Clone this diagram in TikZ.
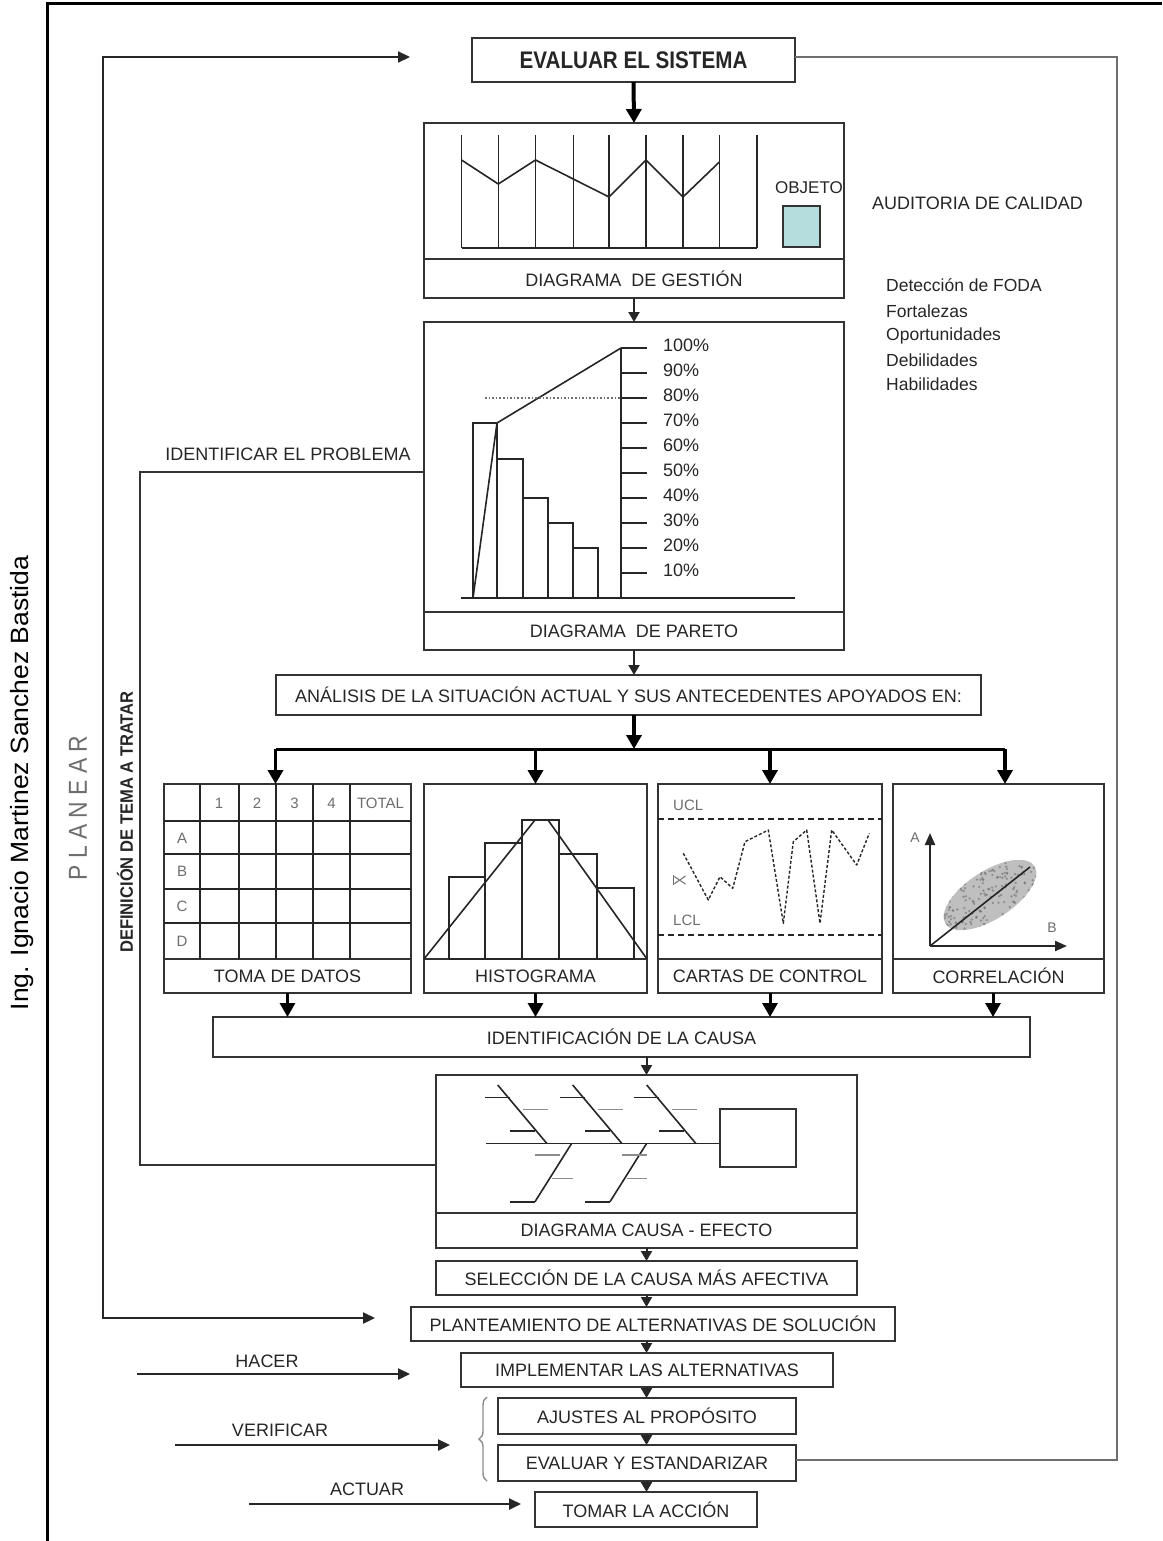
\documentclass[tikz,border=0pt]{standalone}
\usepackage{fontspec}
\usepackage{graphicx}
\setmainfont{Liberation Sans}
\usetikzlibrary{arrows.meta,decorations.pathreplacing,calc}

\definecolor{ink}{HTML}{262626}
\definecolor{lineg}{HTML}{333333}
\definecolor{soft}{HTML}{6E6E6E}
\definecolor{pale}{HTML}{8C8C8C}
\definecolor{objcol}{HTML}{B5DDDE}

% horizontal squeeze / stretch of a label
\newcommand{\hs}[2]{\scalebox{#1}[1]{#2}}

\tikzset{
  box/.style={draw=lineg, line width=1.8pt, inner sep=0pt, outer sep=0pt},
  lbl/.style={font=\fontsize{18}{20}\selectfont, text=ink, inner sep=0pt},
  small/.style={font=\fontsize{15}{17}\selectfont, text=soft, inner sep=0pt},
  arr/.style={draw=ink, line width=2pt, -{Triangle[width=11pt,length=10pt]}},
  bigarr/.style={draw=black, line width=3.5pt, -{Triangle[width=15pt,length=14pt]}},
  sidearr/.style={draw=ink, line width=2.4pt, -{Triangle[width=11pt,length=12pt]}},
  wire/.style={draw=lineg, line width=1.8pt},
  chart/.style={draw=ink, line width=1.6pt},
  bone/.style={draw=ink, line width=1.6pt},
  twig/.style={draw=pale, line width=1.4pt},
}

\begin{document}
\begin{tikzpicture}[x=1pt,y=-1pt]
\useasboundingbox (0,0) rectangle (1162,1541);
\fill[white] (0,0) rectangle (1162,1541);

% page frame
\draw[black, line width=3pt] (1162,4) -- (47,4) -- (47,1541);

% vertical side texts
\node[rotate=90, font=\fontsize{25}{27}\selectfont, text=black, inner sep=0pt] (author) at (22,783) {\hs{1.06}{Ing. Ignacio Martinez Sanchez Bastida}};
\node[rotate=90, font=\fontsize{26}{28}\selectfont, text=soft, inner sep=0pt] (planear) at (78,808) {\hs{0.88}{P L A N E A R}};
\node[rotate=90, font=\bfseries\fontsize{18}{20}\selectfont, text=ink, inner sep=0pt] (defin) at (125,822) {\hs{0.92}{DEFINICIÓN DE TEMA A TRATAR}};

% ---------- main boxes ----------
\node[box, minimum width=323pt, minimum height=44pt, font=\bfseries\fontsize{24}{26}\selectfont, text=ink] (eval) at (633.5,60) {\hs{0.86}{EVALUAR EL SISTEMA}};

\node[box, minimum width=420pt, minimum height=175pt] (gest) at (634,210.5) {};
\node[box, lbl, minimum width=420pt, minimum height=39pt] (gestcap) at (634,278.5) {DIAGRAMA \ DE GESTIÓN};

\node[box, minimum width=420pt, minimum height=328pt] (par) at (634,486) {};
\node[box, lbl, minimum width=420pt, minimum height=38pt] (parcap) at (634,631) {DIAGRAMA \ DE PARETO};

\node[box, lbl, minimum width=705pt, minimum height=40pt] (anal) at (628.5,695) {ANÁLISIS DE LA SITUACIÓN ACTUAL Y SUS ANTECEDENTES APOYADOS EN:};

\node[box, minimum width=247pt, minimum height=209pt] (toma) at (287.5,888.5) {};
\node[box, lbl, minimum width=247pt, minimum height=34pt] (tomacap) at (287.5,976) {TOMA DE DATOS};
\node[box, minimum width=223pt, minimum height=209pt] (hist) at (535.5,888.5) {};
\node[box, lbl, minimum width=223pt, minimum height=34pt] (histcap) at (535.5,976) {HISTOGRAMA};
\node[box, minimum width=224pt, minimum height=209pt] (cart) at (770,888.5) {};
\node[box, lbl, minimum width=224pt, minimum height=34pt] (cartcap) at (770,976) {CARTAS DE CONTROL};
\node[box, minimum width=211pt, minimum height=209pt] (corr) at (998.5,888.5) {};
\node[box, lbl, minimum width=211pt, minimum height=34pt] (corrcap) at (998.5,976) {CORRELACIÓN};

\node[box, lbl, minimum width=817pt, minimum height=40pt] (ident) at (621.5,1037) {IDENTIFICACIÓN DE LA CAUSA};

\node[box, minimum width=421pt, minimum height=173pt] (causa) at (646.5,1161.5) {};
\node[box, lbl, minimum width=421pt, minimum height=35pt] (causacap) at (646.5,1230.5) {DIAGRAMA CAUSA - EFECTO};

\node[box, lbl, minimum width=421pt, minimum height=34pt] (sel) at (646.5,1278) {SELECCIÓN DE LA CAUSA MÁS AFECTIVA};
\node[box, lbl, minimum width=484pt, minimum height=34pt] (plan) at (653,1324) {PLANTEAMIENTO DE ALTERNATIVAS DE SOLUCIÓN};
\node[box, lbl, minimum width=372pt, minimum height=34pt] (impl) at (647,1370) {IMPLEMENTAR LAS ALTERNATIVAS};
\node[box, lbl, minimum width=298pt, minimum height=36pt] (ajus) at (647,1416) {AJUSTES AL PROPÓSITO};
\node[box, lbl, minimum width=298pt, minimum height=36pt] (evst) at (647,1463) {EVALUAR Y ESTANDARIZAR};
\node[box, lbl, minimum width=222pt, minimum height=35pt] (tomar) at (646,1509.5) {TOMAR LA ACCIÓN};

% ---------- side labels ----------
\node[lbl, anchor=west] (audit) at (872,203) {AUDITORIA DE CALIDAD};
\begin{scope}[every node/.style={lbl, anchor=west, font=\fontsize{17.5}{19}\selectfont}]
  \node (foda) at (886,285) {Detección de FODA};
  \node (fort) at (886,311) {Fortalezas};
  \node (opor) at (886,336) {Oportunidades};
  \node (debi) at (886,360) {Debilidades};
  \node (habi) at (886,384) {Habilidades};
\end{scope}
\node[lbl] (identprob) at (288,454) {IDENTIFICAR EL PROBLEMA};
\node[lbl] (hacer) at (267,1361) {HACER};
\node[lbl] (verif) at (280,1430) {VERIFICAR};
\node[lbl] (actuar) at (367,1489) {ACTUAR};

% ---------- management chart ----------
\foreach \x in {461.5,498.3,535.5,573.3,609,645.9,683,719.4,756.7}
  \draw[chart] (\x,135) -- (\x,248);
\draw[chart] (461.5,248) -- (756.7,248);
\draw[chart, line join=round] (461.5,160) -- (498.3,184) -- (535.5,160) -- (609,197) -- (645.9,160) -- (683,197) -- (719.4,162);
\node[lbl, font=\fontsize{17}{19}\selectfont] (objeto) at (809,188) {OBJETO};
\draw[draw=lineg, line width=1.6pt, fill=objcol] (783,206) rectangle (820,247);

% ---------- Pareto chart ----------
\draw[chart] (621,348) -- (621,598);
\draw[chart] (461,598) -- (795,598);
\foreach \k/\t in {0/100\%,1/90\%,2/80\%,3/70\%,4/60\%,5/50\%,6/40\%,7/30\%,8/20\%,9/10\%} {
  \draw[chart] (621,348+25*\k) -- (647,348+25*\k);
  \node[lbl, anchor=west] at (663,345+25*\k) {\t};
}
\draw[chart] (473,598) rectangle (497,423);
\draw[chart] (497,598) rectangle (523,459);
\draw[chart] (523,598) rectangle (548,498);
\draw[chart] (548,598) rectangle (573,523);
\draw[chart] (573,598) rectangle (598,548);
\draw[chart, line join=round] (473,598) -- (497,423) -- (621,348);
\draw[draw=soft, line width=1.6pt, dotted] (485,398) -- (621,398);

% ---------- data sheet ----------
\foreach \x in {200,238.5,276,313,350}
  \draw[chart, line width=2pt] (\x,784) -- (\x,959);
\foreach \y in {821,854,889,923}
  \draw[chart, line width=2.4pt] (164,\y) -- (411,\y);
\begin{scope}[every node/.style={small}]
  \node at (219,803) {1};
  \node at (257,803) {2};
  \node at (294.5,803) {3};
  \node at (331.5,803) {4};
  \node at (380.5,803) {TOTAL};
  \node at (182,838) {A};
  \node at (182,871.5) {B};
  \node at (182,906) {C};
  \node at (182,941) {D};
\end{scope}

% ---------- histogram ----------
\draw[chart] (449,959) rectangle (485,877);
\draw[chart] (485,959) rectangle (522,843);
\draw[chart] (522,959) rectangle (559,820);
\draw[chart] (559,959) rectangle (597,854);
\draw[chart] (597,959) rectangle (634,888);
\draw[chart, line join=round] (424,959) -- (535,820) -- (548,820) -- (647,959);

% ---------- control chart ----------
\draw[draw=ink, line width=2.5pt, dash pattern=on 6pt off 4pt] (658,819) -- (882,819);
\draw[draw=ink, line width=2.5pt, dash pattern=on 6pt off 4pt] (658,935) -- (882,935);
\node[small, anchor=west] (ucl) at (673,805) {UCL};
\node[small, anchor=west] (lcl) at (673,920) {LCL};
\node[small, rotate=90, font=\fontsize{16}{18}\selectfont] (xbar) at (679,880) {$\overline{\mathsf{X}}$};
\draw[draw=ink, line width=1.4pt, densely dashed, line join=round]
  (683.3,853.3) -- (708.3,900) -- (720,876.7) -- (732.7,888.3) -- (745,841.7) -- (768.3,830)
  -- (783.3,923.3) -- (793.3,841.7) -- (806.7,830) -- (820,923.3) -- (831.7,830)
  -- (856.7,865) -- (869.3,833.3);

% ---------- scatter diagram ----------
\begin{scope}
  \path[clip, rotate around={33:(990,895)}] (990,895) ellipse [x radius=53, y radius=24];
  \fill[gray!50] (930,860) rectangle (1050,935);
  \pgfmathsetseed{7}
  \foreach \i in {1,...,260} {
    \pgfmathsetmacro{\px}{935+110*rnd}
    \pgfmathsetmacro{\py}{862+72*rnd}
    \fill[gray!80!black, opacity=0.55] (\px,\py) circle [radius=1.3pt];
  }
\end{scope}
\draw[chart] (930,946) -- (1030,867);
\draw[draw=ink, line width=2.2pt, -{Triangle[width=10pt,length=12pt]}] (930,946) -- (930,833);
\draw[draw=ink, line width=2.2pt, -{Triangle[width=10pt,length=12pt]}] (930,946) -- (1067,946);
\node[small, font=\fontsize{14}{16}\selectfont] (axa) at (915,838) {A};
\node[small, font=\fontsize{14}{16}\selectfont] (axb) at (1052,928) {B};

% ---------- fishbone ----------
\draw[bone] (486,1143.3) -- (720,1143.3);
\draw[draw=lineg, line width=1.6pt] (720,1109) rectangle (796,1167);
\foreach \dx in {0,75,149} {
  \draw[bone] (497.7+\dx,1085) -- (546.7+\dx,1143.3);
  \draw[bone] (485+\dx,1097.3) -- (510+\dx,1097.3);
  \draw[bone] (510+\dx,1131) -- (535+\dx,1131);
  \draw[twig] (523+\dx,1109.3) -- (548+\dx,1109.3);
}
\foreach \dx in {0,75} {
  \draw[bone] (571.7+\dx,1143.3) -- (535+\dx,1201.7);
  \draw[bone] (510+\dx,1201.7) -- (535+\dx,1201.7);
}
\draw[twig] (535,1155) -- (560,1155);
\draw[twig] (551.7,1178.3) -- (573.3,1178.3);
\draw[twig] (621.7,1155) -- (646.7,1155);
\draw[twig] (626.7,1178.3) -- (646.7,1178.3);

% ---------- flow arrows ----------
\draw[draw=black, line width=4pt, -{Triangle[width=15pt,length=14pt]}] (eval.south) -- (gest.north);
\draw[arr] (gestcap.south) -- (par.north);
\draw[arr] (parcap.south) -- (parcap.south |- anal.north);

\coordinate (dist) at (634,749);
\coordinate (dl) at (275.5,749);
\coordinate (dr) at (1005,749);
\draw[bigarr] (dist |- anal.south) -- (dist);
\draw[draw=black, line width=3pt] (dl) -- (dr);
\draw[bigarr] (dl) -- (dl |- toma.north);
\draw[bigarr] (535.5,749) -- (hist.north);
\draw[bigarr] (770,749) -- (cart.north);
\draw[bigarr] (dr) -- (dr |- corr.north);

\draw[bigarr, line width=3pt] (tomacap.south) -- (tomacap.south |- ident.north);
\draw[bigarr, line width=3pt] (histcap.south) -- (histcap.south |- ident.north);
\draw[bigarr, line width=3pt] (cartcap.south) -- (cartcap.south |- ident.north);
\draw[bigarr, line width=3pt] (993,993) -- (993,1017);

\draw[arr] (causa.north |- ident.south) -- (causa.north);
\draw[arr] (causacap.south) -- (sel.north);
\draw[arr] (sel.south) -- (sel.south |- plan.north);
\draw[arr] (sel.south |- plan.south) -- (sel.south |- impl.north);
\draw[arr] (sel.south |- impl.south) -- (sel.south |- ajus.north);
\draw[arr] (sel.south |- ajus.south) -- (sel.south |- evst.north);
\draw[arr] (sel.south |- evst.south) -- (sel.south |- tomar.north);

% problem identification link: Pareto back to cause-effect
\coordinate (pt) at (140,472);
\coordinate (pb) at (140,1165);
\draw[wire] (pt -| par.west) -- (pt) -- (pb) -- (pb -| causa.west);

% planning loop on the left
\coordinate (lt) at (410,57);
\coordinate (lc1) at (103,57);
\coordinate (lc2) at (103,1318);
\coordinate (lb) at (375,1318);
\draw[draw=ink, line width=2.2pt, {Triangle[width=11pt,length=12pt]}-{Triangle[width=11pt,length=12pt]}] (lt) -- (lc1) -- (lc2) -- (lb);

% feedback loop on the right
\coordinate (rb) at (1117,1460);
\coordinate (rt) at (1117,57);
\draw[wire, draw=soft] (evst.east |- rb) -- (rb) -- (rt) -- (eval.east |- rt);

% do / check / act inputs
\coordinate (h0) at (137,1374);  \coordinate (h1) at (410,1374);
\coordinate (v0) at (175,1445);  \coordinate (v1) at (450,1445);
\coordinate (a0) at (249,1504);  \coordinate (a1) at (521,1504);
\draw[sidearr] (h0) -- (h1);
\draw[sidearr] (v0) -- (v1);
\draw[sidearr] (a0) -- (a1);

% brace grouping the check steps
\draw[draw=pale, line width=1.4pt, decorate, decoration={brace, amplitude=8pt}] (487,1481) -- (487,1397);

\end{tikzpicture}
\end{document}
